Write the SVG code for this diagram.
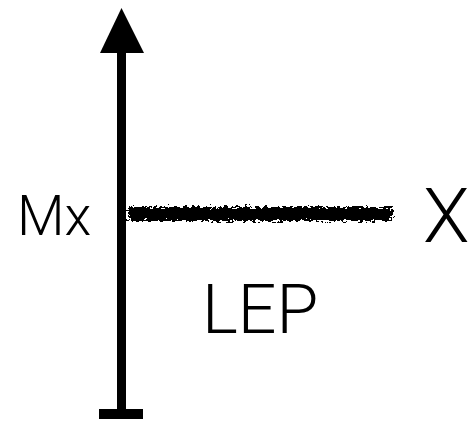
<svg xmlns="http://www.w3.org/2000/svg" width="471" height="421" viewBox="0 0 471 421">
<style>
.lbl{font-family:Roboto,"Liberation Sans",sans-serif;font-weight:300;fill:#000}
.axis{stroke:#000;stroke-width:9;fill:none}
</style>
<defs>
<filter id="rough" filterUnits="userSpaceOnUse" x="110" y="190" width="300" height="45">
<feTurbulence type="fractalNoise" baseFrequency="0.25 0.5" numOctaves="3" seed="5" result="n"/>
<feDisplacementMap in="SourceGraphic" in2="n" scale="10" xChannelSelector="R" yChannelSelector="G"/>
</filter>
</defs>
<g id="axis-vertical">
<line class="axis" x1="121.5" y1="48" x2="121.5" y2="411"/>
<polygon points="121.5,8 100,53 144,53" fill="#000"/>
<rect x="99" y="409" width="44" height="10" fill="#000"/>
</g>
<g id="connectors">
<path d="M128,214 L392,214" stroke="#000" stroke-width="14" fill="none" filter="url(#rough)"/>
</g>
<g id="label-mx"><text class="lbl" x="17" y="235" font-size="55">Mx</text></g>
<g id="label-x"><text class="lbl" x="423" y="242" font-size="76">X</text></g>
<g id="label-lep"><text class="lbl" x="202" y="333" font-size="68">LEP</text></g>
</svg>
